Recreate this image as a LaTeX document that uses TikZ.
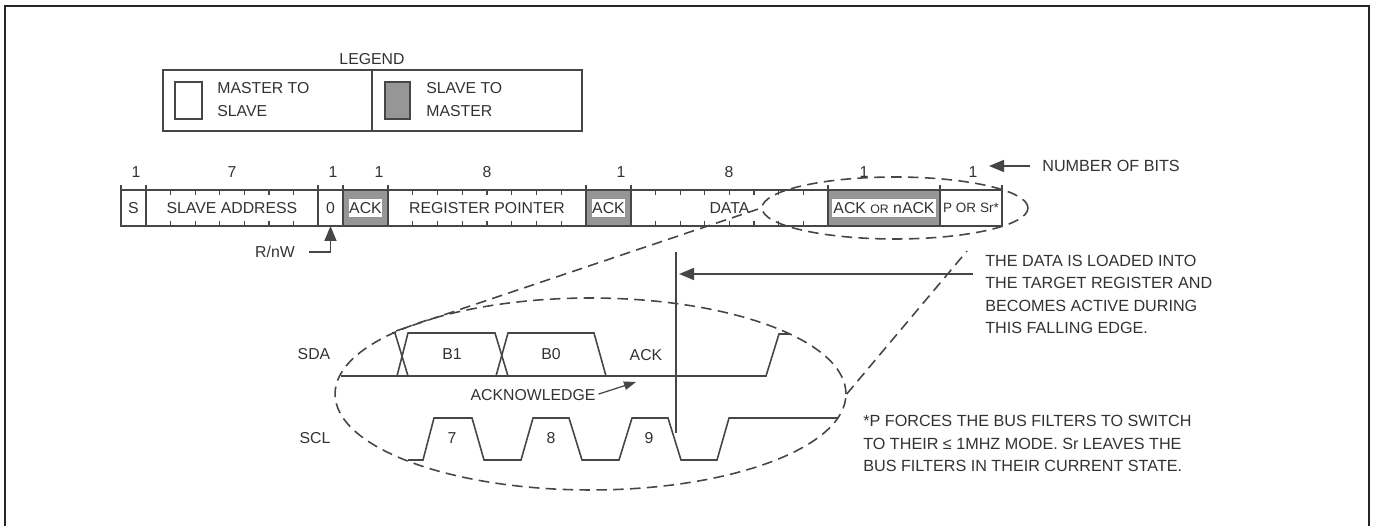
\documentclass[tikz,border=0pt]{standalone}
\usepackage{fontspec}
\setmainfont{Liberation Sans}
\usepackage{xcolor}
\usetikzlibrary{positioning,arrows.meta,shapes.geometric}
\definecolor{InkGray}{RGB}{70,70,70}
\definecolor{TextGray}{RGB}{50,50,50}
\definecolor{SlaveGray}{RGB}{150,150,150}
\tikzset{
  lab/.style={font=\fontsize{9}{12.6}\selectfont, text=TextGray, inner sep=0pt, align=left},
  smalllab/.style={lab, font=\fontsize{7.7}{10}\selectfont},
  note/.style={lab, font=\fontsize{9.2}{12.6}\selectfont, anchor=west},
  bitcell/.style={draw=InkGray, line width=0.9pt, minimum height=0.72cm, inner sep=0pt,
    outer sep=0pt, anchor=west, lab},
  ackcell/.style={bitcell, fill=SlaveGray, line width=1.3pt},
  acktext/.style={lab, fill=white, minimum height=0.37cm},
  legendcell/.style={draw=InkGray, line width=0.9pt, minimum height=1.22cm, outer sep=0pt, anchor=west},
  swatch/.style={draw=InkGray, line width=0.9pt, minimum height=0.74cm, inner sep=0pt, anchor=west},
  wave/.style={draw=InkGray, line width=0.9pt, line join=miter},
  loop/.style={ellipse, draw=InkGray, line width=0.9pt, inner sep=0pt, dash pattern=on 6pt off 3.6pt},
  zoomline/.style={draw=InkGray, line width=0.9pt, dash pattern=on 6pt off 3.6pt},
  flowarrow/.style={-{Triangle[length=0.3cm,width=0.24cm]}, draw=InkGray, line width=0.9pt},
}
\begin{document}
\begin{tikzpicture}[x=0.02cm,y=-0.02cm]
  \useasboundingbox (0,0) rectangle (1377,526);
  \draw[black!85, line width=1.3pt] (5,526) -- (5,6) -- (1369,6) -- (1369,526);

  \node[lab] (legendtitle) at (372,59) {LEGEND};
  \node[legendcell, minimum width=4.18cm] (legendmaster) at (163,100.5) {};
  \node[legendcell, minimum width=4.2cm] (legendslave) at (372,100.5) {};
  \node[swatch, minimum width=0.54cm] (swatchmaster) at (174,100.5) {};
  \node[swatch, minimum width=0.5cm, fill=SlaveGray] (swatchslave) at (384,100.5) {};
  \node[note, font=\fontsize{9}{12.9}\selectfont] (textmaster) at (217,99.5) {MASTER TO\\SLAVE};
  \node[note, font=\fontsize{9}{12.9}\selectfont] (textslave) at (426,99.5) {SLAVE TO\\MASTER};

  \node[bitcell, minimum width=0.5cm] (startcell) at (121,208) {S};
  \node[bitcell, minimum width=3.44cm] (addrcell) at (146,208) {SLAVE ADDRESS};
  \node[bitcell, minimum width=0.5cm] (rwcell) at (318,208) {0};
  \node[ackcell, minimum width=0.9cm] (ackone) at (343,208) {};
  \node[bitcell, minimum width=3.96cm] (regcell) at (388,208) {REGISTER POINTER};
  \node[ackcell, minimum width=0.9cm] (acktwo) at (586,208) {};
  \node[bitcell, minimum width=3.94cm] (datacell) at (631,208) {DATA};
  \node[ackcell, minimum width=2.24cm] (ackthree) at (828,208) {};
  \node[bitcell, minimum width=1.24cm, smalllab] (stopcell) at (940,208) {P OR Sr*};
  \node[acktext, minimum width=0.66cm] (ackonetext) at (ackone) {ACK};
  \node[acktext, minimum width=0.66cm] (acktwotext) at (acktwo) {ACK};
  \node[acktext, minimum width=2.1cm] (ackthreetext) at (ackthree) {ACK {\fontsize{7}{8}\selectfont OR} nACK};

  \foreach \x in {121,146,318,343,388,586,631,828,940,1002} {
    \draw[InkGray, line width=0.9pt] (\x,185) -- (\x,190);
  }
  \foreach \x/\n in {136/1,232/7,333/1,379/1,487/8,621/1,729/8,864/1,973/1} {
    \node[lab] (bits\x) at (\x,172) {\n};
  }
  \foreach \k in {1,...,6} {
    \draw[InkGray, line width=0.7pt] ({146+24.6*\k},190) -- ++(0,5) ({146+24.6*\k},226) -- ++(0,-5);
  }
  \foreach \k in {1,...,7} {
    \draw[InkGray, line width=0.7pt] ({388+24.75*\k},190) -- ++(0,5) ({388+24.75*\k},226) -- ++(0,-5);
    \draw[InkGray, line width=0.7pt] ({631+24.6*\k},190) -- ++(0,5) ({631+24.6*\k},226) -- ++(0,-5);
  }

  \node[lab] (rnwlabel) at (275,252) {R/nW};
  \draw[flowarrow, shorten <=0.28cm] (rnwlabel.east) -| (rwcell.south);
  \node[note] (bitslabel) at (1042,166) {NUMBER OF BITS};
  \coordinate (bitstip) at (989,166);
  \draw[flowarrow, shorten <=0.24cm] (bitslabel.west) -- (bitstip);

  \node[loop, minimum width=5.32cm, minimum height=1.24cm] (smallloop) at (895,208) {};
  \node[loop, minimum width=10.22cm, minimum height=3.84cm] (bigloop) at (590.5,394) {};
  \coordinate (zoomend) at (967,251);
  \draw[zoomline] (bigloop.162) -- (smallloop.west);
  \draw[zoomline] (bigloop.east) -- (zoomend);

  \draw[wave] (341,376) -- (766,376) -- (779,334) -- (790,334);
  \draw[wave] (392,333) -- (395,333) -- (408,376);
  \draw[wave] (397,376) -- (408,333) -- (495,333) -- (508,376);
  \draw[wave] (496,376) -- (508,333) -- (594,333) -- (606,376);
  \draw[wave] (408,460) -- (423,460) -- (434,418) -- (472,418) -- (484,460) -- (521,460)
    -- (533,418) -- (569,418) -- (582,460) -- (619,460) -- (632,418) -- (668,418)
    -- (681,460) -- (717,460) -- (729,418) -- (838,418);

  \node[lab] (sdalabel) at (314,354) {SDA};
  \node[lab] (scllabel) at (315,438) {SCL};
  \node[lab] (bitone) at (452,354) {B1};
  \node[lab] (bitzero) at (551,354) {B0};
  \node[lab] (acklabel) at (646,355) {ACK};
  \node[lab] (clkseven) at (452,438) {7};
  \node[lab] (clkeight) at (551,438) {8};
  \node[lab] (clknine) at (649,438) {9};
  \node[lab] (acknowledge) at (533,395) {ACKNOWLEDGE};
  \coordinate (acktip) at (636,382);
  \draw[-{Triangle[length=0.24cm,width=0.17cm]}, draw=InkGray, line width=0.7pt, shorten <=0.06cm] (acknowledge.east) -- (acktip);

  \coordinate (edgetop) at (676,252);
  \coordinate (edgebot) at (676,433);
  \draw[wave] (edgetop) -- (edgebot);
  \coordinate (edgetail) at (973,274);
  \coordinate (edgetip) at (679,274);
  \draw[flowarrow] (edgetail) -- (edgetip);

  \node[note] (loadnote) at (985,294.5) {THE DATA IS LOADED INTO\\THE TARGET REGISTER AND\\BECOMES ACTIVE DURING\\THIS FALLING EDGE.};
  \node[note] (filternote) at (863,443.5) {*P FORCES THE BUS FILTERS TO SWITCH\\TO THEIR ≤ 1MHZ MODE. Sr LEAVES THE\\BUS FILTERS IN THEIR CURRENT STATE.};
\end{tikzpicture}
\end{document}
